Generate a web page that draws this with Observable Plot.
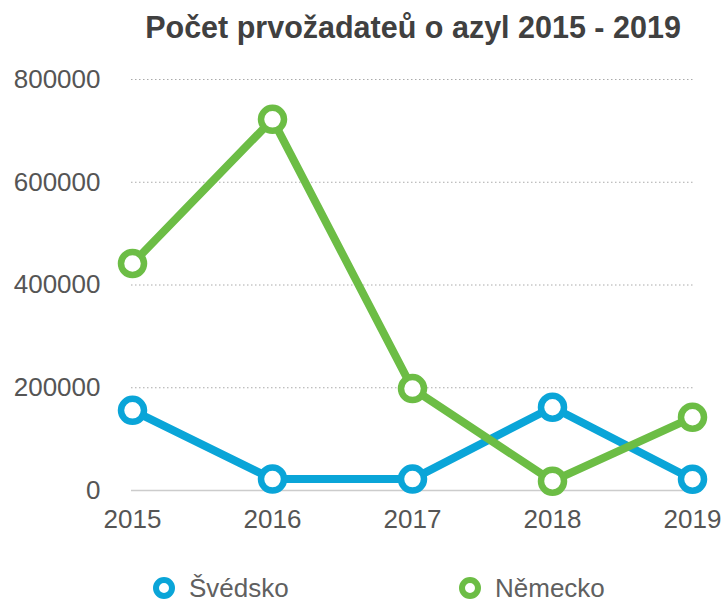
<!DOCTYPE html>
<html>
<head>
<meta charset="utf-8">
<script src="https://cdn.jsdelivr.net/npm/d3@7"></script>
<script src="https://cdn.jsdelivr.net/npm/@observablehq/plot@0.6"></script>
<style>
  body { margin: 0; background: #fff; font-family: "Liberation Sans", Arial, sans-serif; }
  #wrap { width: 726px; height: 603px; position: relative; overflow: hidden; }
  #title { position: absolute; top: 9px; left: 100px; width: 626px; text-align: center; font-size: 30.5px; line-height: 36px; color: #404040; font-weight: 600; white-space: nowrap; }
  #chart { position: absolute; top: 60px; left: 0; }
  .leg { position: absolute; top: 572px; height: 32px; font-size: 26px; color: #606060; display: flex; align-items: center; }
  .leg svg { margin-right: 12px; }
</style>
</head>
<body>
<div id="wrap">
  <div id="title">Počet prvožadateů o azyl 2015 - 2019</div>
  <div id="chart"></div>
  <div id="legend"></div>
</div>
<script>
const years = ["2015", "2016", "2017", "2018", "2019"];
const seriesNames = ["Švédsko", "Německo"];
const seriesColors = ["#0aa5d8", "#6cbd45"];
const sweden = [156000, 22300, 22200, 162000, 22000];
const germany = [441800, 722400, 198300, 18100, 142500];
const yTicks = [0, 200000, 400000, 600000, 800000];

const data = [];
years.forEach((y, i) => {
  data.push({year: y, series: seriesNames[0], value: sweden[i]});
  data.push({year: y, series: seriesNames[1], value: germany[i]});
});

const plot = Plot.plot({
  width: 726,
  height: 480,
  marginTop: 19,
  marginBottom: 50,
  marginLeft: 131,
  marginRight: 33,
  style: { fontFamily: "Liberation Sans, Arial, sans-serif", fontSize: "26px", color: "#555", background: "#fff", overflow: "visible" },
  x: { type: "point", domain: years, padding: 0, label: null },
  y: { domain: [0, 800000], label: null, ticks: yTicks },
  color: { domain: seriesNames, range: seriesColors },
  marks: [
    Plot.ruleY(yTicks.filter(d => d > 0), { stroke: "#aaa", strokeDasharray: "1.5,2.5", strokeWidth: 1 }),
    Plot.ruleY([0], { stroke: "#ccc", strokeWidth: 1.5 }),
    Plot.axisY({ ticks: yTicks, tickSize: 0, tickPadding: 31, tickFormat: d => String(d), fontSize: 26, fill: "#555" }),
    Plot.axisX({ tickSize: 0, tickPadding: 19, fontSize: 26, fill: "#555" }),
    Plot.line(data, { x: "year", y: "value", z: "series", stroke: "series", strokeWidth: 8, strokeLinejoin: "round" }),
    Plot.dot(data, { x: "year", y: "value", stroke: "series", fill: "white", r: 11.5, strokeWidth: 6.5 })
  ]
});
document.getElementById("chart").appendChild(plot);

const legend = document.getElementById("legend");
const legX = [151, 457];
seriesNames.forEach((name, i) => {
  const div = document.createElement("div");
  div.className = "leg";
  div.style.left = legX[i] + "px";
  div.innerHTML = `<svg width="26" height="26"><circle cx="13" cy="13" r="8" fill="white" stroke="${seriesColors[i]}" stroke-width="6"/></svg><span>${name}</span>`;
  legend.appendChild(div);
});
</script>
</body>
</html>
